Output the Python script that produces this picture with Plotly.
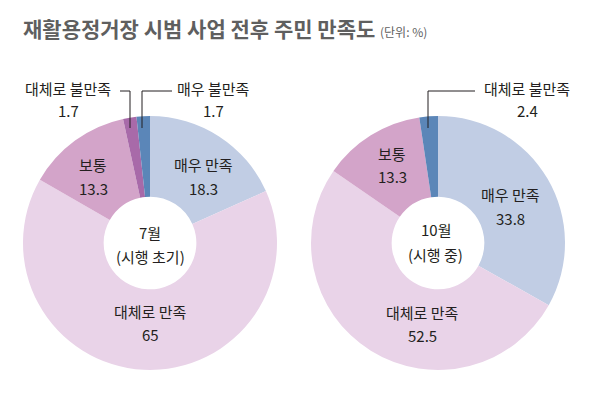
import plotly.graph_objects as go

W, H = 595, 398

# Data
categories_jul = ["매우 만족", "대체로 만족", "보통", "대체로 불만족", "매우 불만족"]
values_jul = [18.3, 65, 13.3, 1.7, 1.7]
colors_jul = ["#c1cde4", "#e9d3e8", "#d3a4c9", "#a86aa9", "#5b86b8"]

categories_oct = ["매우 만족", "대체로 만족", "보통", "대체로 불만족"]
values_oct = [33.8, 52.5, 13.3, 2.4]
colors_oct = ["#c1cde4", "#e9d3e8", "#d3a4c9", "#5b86b8"]

center_jul = ["7월", "(시행 초기)"]
center_oct = ["10월", "(시행 중)"]

title_main = "재활용정거장 시범 사업 전후 주민 만족도"
title_unit = "(단위: %)"

FONT = "Noto Sans CJK KR"
TXT = "#231f20"


def px(x, y):
    return x / W, 1 - y / H


def dom(cx, cy, r):
    return dict(x=[(cx - r) / W, (cx + r) / W], y=[1 - (cy + r) / H, 1 - (cy - r) / H])


fig = go.Figure()
fig.add_trace(go.Pie(labels=categories_jul, values=values_jul, marker=dict(colors=colors_jul, line=dict(width=0)),
                     hole=0.365, sort=False, direction="clockwise", rotation=0, textinfo="none",
                     hoverinfo="label+value", domain=dom(150, 243, 127), showlegend=False))
fig.add_trace(go.Pie(labels=categories_oct, values=values_oct, marker=dict(colors=colors_oct, line=dict(width=0)),
                     hole=0.365, sort=False, direction="clockwise", rotation=0, textinfo="none",
                     hoverinfo="label+value", domain=dom(438, 243, 127), showlegend=False))

annotations = []


def lab(text, x, y, size=15):
    ax, ay = px(x, y)
    annotations.append(dict(text=text, x=ax, y=ay, xref="paper", yref="paper", showarrow=False,
                            xanchor="center", yanchor="middle", font=dict(family=FONT, size=size, color=TXT)))


def fmt(v):
    return f"{v:g}"

# left pie labels: (category index, x, y)
left_pos = {0: (203, 165), 1: (150, 311), 2: (93, 165), 3: (68, 88), 4: (213, 88)}
for i, (x, y) in left_pos.items():
    lab(categories_jul[i], x, y)
    lab(fmt(values_jul[i]), x, y + 23)

right_pos = {0: (510, 195), 1: (422, 312), 2: (392, 153), 3: (527, 88)}
for i, (x, y) in right_pos.items():
    lab(categories_oct[i], x, y)
    lab(fmt(values_oct[i]), x, y + 23)

lab(center_jul[0], 150, 232)
lab(center_jul[1], 150, 256)
lab(center_oct[0], 436, 229)
lab(center_oct[1], 436, 254)

tx, ty = px(21, 28)
annotations.append(dict(text=f"<b>{title_main}</b> <span style='font-size:12px'>{title_unit}</span>",
                        x=tx, y=ty, xref="paper", yref="paper", showarrow=False, xanchor="left", yanchor="middle",
                        font=dict(family=FONT, size=21, color="#5f5f5f")))

shapes = []


def leader(points):
    path = "M " + " L ".join(f"{x / W},{1 - y / H}" for x, y in points)
    shapes.append(dict(type="path", path=path, xref="paper", yref="paper", line=dict(color="#231f20", width=1)))

leader([(120, 91), (130, 91), (130, 128)])
leader([(172, 91), (142, 91), (142, 128)])
leader([(475, 91), (428, 91), (428, 128)])

fig.update_layout(width=W, height=H, margin=dict(l=0, r=0, t=0, b=0), paper_bgcolor="white",
                  plot_bgcolor="white", annotations=annotations, shapes=shapes, font=dict(family=FONT))

fig.write_html("out.html", config={"displayModeBar": False},
               post_script="document.body.style.margin='0';document.body.style.padding='0';")
